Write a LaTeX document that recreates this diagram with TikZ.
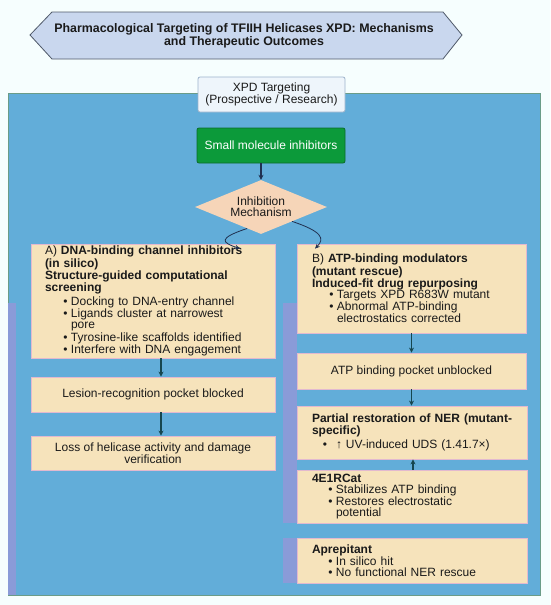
\documentclass[tikz,border=0pt]{standalone}
\usepackage{fontspec}
\setmainfont{Liberation Sans}
\usetikzlibrary{shapes.geometric,arrows.meta,calc}
\definecolor{bgc}{HTML}{F6FEFE}
\definecolor{panel}{HTML}{62ADD9}
\definecolor{panelb}{HTML}{6A9C88}
\definecolor{lav}{HTML}{8A9BD8}
\definecolor{boxc}{HTML}{F6E3BB}
\definecolor{boxb}{HTML}{E2B9CF}
\definecolor{titlec}{HTML}{C9D7EE}
\definecolor{titleb}{HTML}{505A6A}
\definecolor{xpdc}{HTML}{EEF5FB}
\definecolor{xpdb}{HTML}{9DB3CB}
\definecolor{greenc}{HTML}{0C9A3A}
\definecolor{greenb}{HTML}{0B6B2B}
\definecolor{diac}{HTML}{F6D5B8}
\definecolor{txt}{HTML}{1A1A1A}
\definecolor{arrc}{HTML}{16464F}
\definecolor{navy}{HTML}{203050}
\newcommand{\bu}[1]{\makebox[#1][r]{\textbullet\hspace{3.5pt}}}
\newcommand{\ct}[1]{\hspace*{#1}}
\begin{document}
\begin{tikzpicture}[x=1pt,y=-1pt,
  basefont/.style={font=\fontsize{12}{11}\selectfont, text=txt},
  box/.style={rectangle, fill=boxc, draw=boxb, line width=0.8pt, inner sep=0pt, basefont},
  cbox/.style={box, align=center},
  lbox/.style={box, align=left, text width=#1},
  arr/.style={-{Stealth[length=5pt,width=5pt]}, line width=1.1pt, draw=arrc},
  carr/.style={-{Stealth[length=5pt,width=4.5pt]}, line width=0.8pt, draw=navy}
]
\useasboundingbox (0,0) rectangle (550,605);
\fill[bgc] (0,0) rectangle (550,605);

% title
\draw[fill=titlec, draw=titleb, line width=0.8pt] (30,35) -- (52,12) -- (443,12) -- (462,35) -- (443,59) -- (52,59) -- cycle;
\node[font=\fontsize{12.4}{11.2}\selectfont\bfseries, text=txt, align=center] (title) at (244,35.5)
  {Pharmacological Targeting of TFIIH Helicases XPD: Mechanisms\\and Therapeutic Outcomes};

% panel
\draw[fill=panel, draw=panelb, line width=0.8pt] (8,93) rectangle (540,595);
\fill[lav] (8.4,303) rectangle (16,594.6);
\fill[lav] (283,303) rectangle (297,523);
\fill[lav] (283,538) rectangle (297,583);

\node[rectangle, rounded corners=2pt, fill=xpdc, draw=xpdb, line width=0.8pt, minimum width=147pt, minimum height=35pt, inner sep=0pt, align=center, basefont] (xpd) at (271.5,94.5)
  {XPD Targeting\\(Prospective / Research)};

\node[rectangle, rounded corners=2pt, fill=greenc, draw=greenb, line width=0.8pt, minimum width=148pt, minimum height=35pt, inner sep=0pt, font=\fontsize{12}{11}\selectfont, text=white] (green) at (271,145.5)
  {Small molecule inhibitors};

\node[diamond, aspect=2.4, fill=diac, inner sep=0pt, minimum width=132pt, minimum height=54pt, align=center, basefont] (dia) at (261,207)
  {Inhibition\\Mechanism};

% left column
\node[lbox=216pt, minimum width=244pt, minimum height=114pt] (A) at (153,301)
  {A) \textbf{DNA-binding channel inhibitors}\\
   \textbf{(in silico)}\\
   \textbf{Structure-guided computational}\\
   \textbf{screening}\\[2pt]
   \bu{26pt}Docking to DNA-entry channel\\
   \bu{26pt}Ligands cluster at narrowest\\
   \ct{26pt}pore\\
   \bu{26pt}Tyrosine-like scaffolds identified\\
   \bu{26pt}Interfere with DNA engagement};

\node[cbox, minimum width=244pt, minimum height=35pt] (lesion) at (153,394.5)
  {Lesion-recognition pocket blocked};
\node[cbox, minimum width=244pt, minimum height=34pt] (loss) at (153,453)
  {Loss of helicase activity and damage\\verification};

% right column
\node[lbox=199pt, minimum width=229pt, minimum height=89pt] (B) at (411.5,288.5)
  {B) \textbf{ATP-binding modulators}\\
   \textbf{(mutant rescue)}\\
   \textbf{Induced-fit drug repurposing}\\
   \bu{25pt}Targets XPD R683W mutant\\
   \bu{25pt}Abnormal ATP-binding\\
   \ct{25pt}electrostatics corrected};

\node[cbox, minimum width=229pt, minimum height=36pt] (atp) at (411.5,371)
  {ATP binding pocket unblocked};

\node[lbox=200pt, minimum width=230pt, minimum height=53pt] (ner) at (412,432.5)
  {\mbox{\textbf{Partial restoration of NER (mutant-}}\\
   \textbf{specific)}\\[2pt]
   \makebox[24pt][r]{\textbullet\hspace{9pt}}↑ UV-induced UDS (1.41.7×)};

\node[lbox=200pt, minimum width=230pt, minimum height=53pt] (cat) at (412,496.5)
  {\textbf{4E1RCat}\\
   \bu{24pt}Stabilizes ATP binding\\
   \bu{24pt}Restores electrostatic\\
   \ct{24pt}potential};

\node[lbox=200pt, minimum width=230pt, minimum height=45pt] (apr) at (412,560.5)
  {\textbf{Aprepitant}\\
   \bu{24pt}In silico hit\\
   \bu{24pt}No functional NER rescue};

% connectors
\draw[arr, draw=navy] (green.south -| dia.north) -- (dia.north);
\draw[carr] ($(dia.south)!0.21!(dia.west)$) .. controls +(-30,10) and +(-18,-6) .. ([xshift=87pt,yshift=-5pt]A.north);
\draw[carr] ($(dia.south)!0.47!(dia.east)$) .. controls +(30,10) and +(10,-10) .. ([xshift=-96.5pt,yshift=-5pt]B.north);
\draw[arr] ([xshift=8pt]A.south) -- ([xshift=8pt]lesion.north);
\draw[arr] ([xshift=8pt]lesion.south) -- ([xshift=8pt]loss.north);
\draw[arr] (B.south) -- (atp.north);
\draw[arr] (atp.south) -- (atp.south |- ner.north);
\draw[arr] ([xshift=1pt]cat.north) -- ([xshift=1pt]ner.south);
\end{tikzpicture}
\end{document}
